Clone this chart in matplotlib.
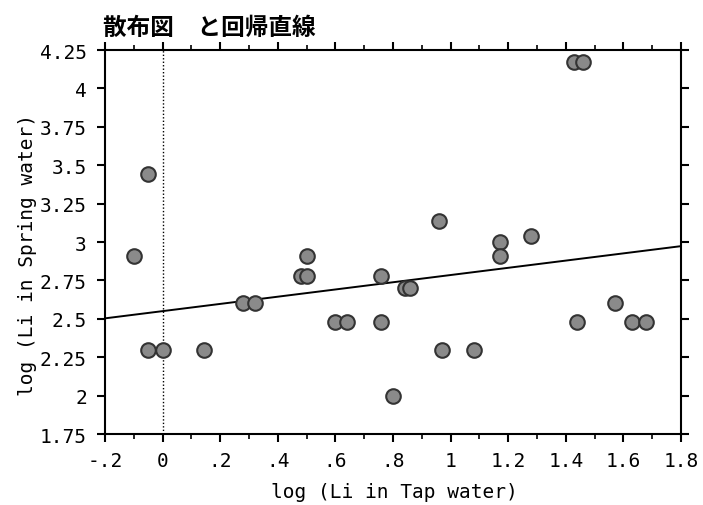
import numpy as np
import matplotlib.pyplot as plt
from matplotlib.ticker import MultipleLocator

# log(Li) in tap water vs spring water
tap_log = [-0.10, -0.05, -0.05, 0.00, 0.145, 0.28, 0.32, 0.48, 0.50, 0.50,
           0.60, 0.64, 0.76, 0.76, 0.80, 0.84, 0.86, 0.96, 0.97, 1.08,
           1.17, 1.17, 1.28, 1.43, 1.46, 1.44, 1.57, 1.63, 1.68]
spring_log = [2.91, 3.44, 2.30, 2.30, 2.30, 2.60, 2.60, 2.78, 2.78, 2.91,
              2.48, 2.48, 2.78, 2.48, 2.00, 2.70, 2.70, 3.14, 2.30, 2.30,
              3.00, 2.91, 3.04, 4.17, 4.17, 2.48, 2.60, 2.48, 2.48]

# fitted line: spring = intercept + slope * tap
intercept = 2.55
slope = 0.235

x_ticks = [-0.2, 0, 0.2, 0.4, 0.6, 0.8, 1.0, 1.2, 1.4, 1.6, 1.8]
x_labels = ['-.2', '0', '.2', '.4', '.6', '.8', '1', '1.2', '1.4', '1.6', '1.8']
y_ticks = [1.75, 2, 2.25, 2.5, 2.75, 3, 3.25, 3.5, 3.75, 4, 4.25]
y_labels = ['1.75', '2', '2.25', '2.5', '2.75', '3', '3.25', '3.5', '3.75', '4', '4.25']

plt.rcParams['font.family'] = ['DejaVu Sans Mono', 'Noto Sans CJK JP']

fig = plt.figure(figsize=(7.03, 5.06), dpi=100)
ax = fig.add_axes([0.1494, 0.1403, 0.8193, 0.7589])

ax.axvline(0, color='black', linestyle=(0, (1, 1.5)), linewidth=1.0, zorder=1)

xs = np.array([-0.2, 1.8])
ax.plot(xs, intercept + slope * xs, color='black', linewidth=1.4, zorder=2)

ax.scatter(tap_log, spring_log, s=110, facecolor='#8a8a8a', edgecolor='#333333',
           linewidth=1.5, zorder=3, clip_on=False)

ax.set_xlim(-0.2, 1.8)
ax.set_ylim(1.75, 4.25)
ax.set_xticks(x_ticks)
ax.set_xticklabels(x_labels)
ax.xaxis.set_minor_locator(MultipleLocator(0.1))
ax.set_yticks(y_ticks)
ax.set_yticklabels(y_labels)

for sp in ax.spines.values():
    sp.set_linewidth(1.5)

ax.tick_params(axis='both', which='major', direction='out', length=6, width=1.5,
               labelsize=14, top=True, right=True)
ax.tick_params(axis='x', which='major', pad=6)
ax.tick_params(axis='y', which='major', pad=7)
ax.tick_params(axis='x', which='minor', direction='out', length=3.5, width=1.2,
               top=True)

ax.set_xlabel('log (Li in Tap water)', fontsize=14)
ax.set_ylabel('log (Li in Spring water)', fontsize=14)
ax.xaxis.set_label_coords(0.503, -0.125)
ax.yaxis.set_label_coords(-0.118, 0.47)

fig.text(0.1465, 0.945, '散布図\u3000と回帰直線', fontsize=17, fontweight='bold',
         family=['Noto Sans CJK JP'], ha='left', va='center')

fig.savefig('out.png', dpi=100)
